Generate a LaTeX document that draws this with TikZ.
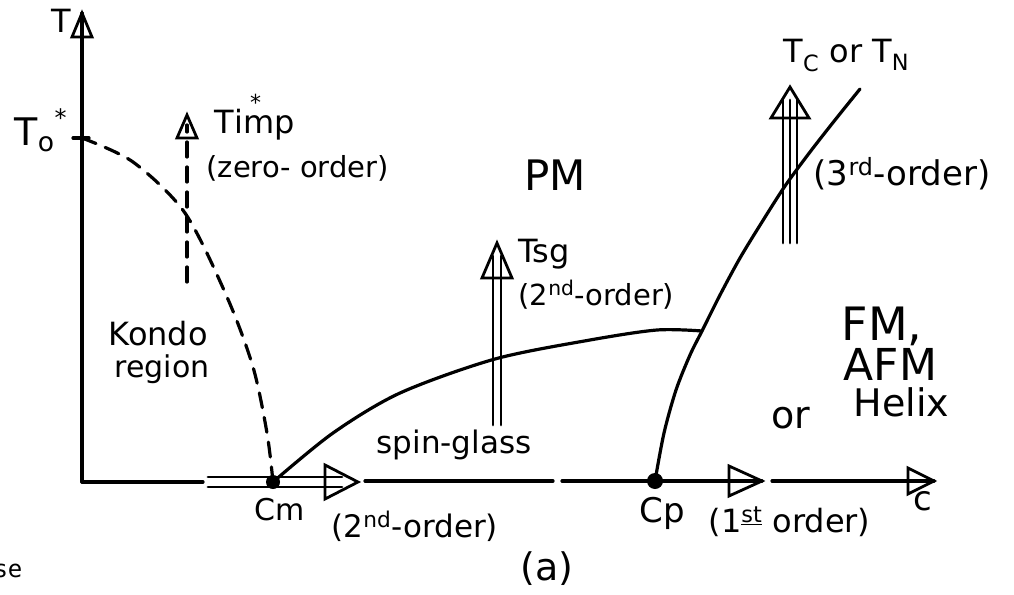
\documentclass[tikz,border=0pt]{standalone}
\usepackage{fontspec}
\setmainfont{DejaVu Sans}
\setmonofont{DejaVu Sans Mono}
\usetikzlibrary{calc}
\newcommand{\fsz}[1]{\fontsize{#1}{#1}\selectfont}

\begin{document}
\begin{tikzpicture}[x=1pt,y=-1pt,line width=3.2pt,line cap=round,line join=round,
  lbl/.style={anchor=base west,inner sep=0pt},
  kondo/.style={dash pattern=on 15pt off 10pt},
  rail/.style={line width=2.7pt},
  head/.style={line width=2.8pt,line join=miter}]
  \useasboundingbox (0,0) rectangle (1014,594);
  % key points
  \coordinate (O) at (82,482);
  \coordinate (ttip) at (82,13);
  \coordinate (t0) at (82,138);
  \coordinate (cm) at (273,482);
  \coordinate (cmtip) at (358,482);
  \coordinate (cp) at (655,481);
  \coordinate (cptip) at (762,481);
  \coordinate (ctip) at (934,481);
  \coordinate (imptip) at (187,115);
  \coordinate (sgtip) at (497,243);
  \coordinate (tctip) at (790,87);
  \coordinate (sgend) at (702,331);
  % T axis
  \draw (O) -- (ttip);
  \draw[head] (ttip) -- ++(-10,24) -- ++(20,0) -- cycle;
  \draw ($(t0)+(-9,0)$) -- ($(t0)+(7,0)$);
  % c axis, with the arrows along it
  \draw (O) -- (203,482);
  \draw[rail] (208,477) -- ($(cmtip)+(-16,-5)$);
  \draw[rail] (208,487) -- ($(cmtip)+(-16,5)$);
  \draw[head] (cmtip) -- ++(-33,-17) -- ++(0,34) -- cycle;
  \draw (365,481) -- (553,481);
  \draw (562,481) -- (cptip);
  \draw[head] (cptip) -- ++(-33,-15) -- ++(0,30) -- cycle;
  \draw (772,481) -- (ctip);
  \draw[head] (ctip) -- ++(-26,-13) -- ++(0,26) -- cycle;
  \fill (cm) circle (7);
  \fill (cp) circle (8);
  % phase lines
  \draw[kondo] plot[smooth] coordinates {(t0) (133,162) (185,213) (227,297) (253,367) (267,433) (cm)};
  \draw plot[smooth] coordinates {(cm) (333,433) (400,393) (495,359) (590,340) (657,330) (sgend)};
  \draw plot[smooth] coordinates {(cp) (664,433) (676,390) (690,355) (sgend) (720,295)
    (740,258) (762,222) (785,186) (810,152) (835,120) (860,89)};
  % zero order
  \draw[kondo] (187,282) -- ($(imptip)+(0,10)$);
  \draw[head] (imptip) -- ++(-10,23) -- ++(20,0) -- cycle;
  % second order
  \draw[rail] (493,425) -- (493,256);
  \draw[rail] (501,425) -- (501,256);
  \draw[head] (sgtip) -- ++(-15,35) -- ++(30,0) -- cycle;
  % third order
  \foreach \dx in {-7,0,7}
    \draw[rail] ($(tctip)+(\dx,156)$) -- ($(tctip)+(\dx,13)$);
  \draw[head] (tctip) -- ++(-19,31) -- ++(38,0) -- cycle;
  % labels
  \node[lbl,font=\fsz{32}] (tlab) at (50,33) {T};
  \node[lbl,font=\fsz{38}] (t0lab) at (13,145) {T\textsubscript{o}\raisebox{0.5em}{\fsz{24}*}};
  \node[lbl,font=\fsz{32}] (implab) at (213,133) {T\rlap{\kern0.5em\raisebox{0.7em}{\fsz{22}*}}imp};
  \node[lbl,font=\fsz{29}] (zerolab) at (205,177) {(zero- order)};
  \node[lbl,font=\fsz{42}] (pm) at (523,190) {PM};
  \node[lbl,font=\fsz{32}] (tclab) at (782,63) {T\textsubscript{C} or T\textsubscript{N}};
  \node[lbl,font=\fsz{34}] (thirdlab) at (812,185) {(3\textsuperscript{rd}-order)};
  \node[lbl,font=\fsz{32}] (sglab) at (517,262) {Tsg};
  \node[lbl,font=\fsz{29}] (secondlab) at (517,305) {(2\textsuperscript{nd}-order)};
  \node[lbl,font=\fsz{32}] (kondo) at (107,345) {Kondo};
  \node[lbl,font=\fsz{30}] (region) at (113,377) {region};
  \node[lbl,font=\fsz{31}] (spinglass) at (375,453) {spin-glass};
  \node[lbl,font=\fsz{46}] (fm) at (840,340) {FM,};
  \node[lbl,font=\fsz{44}] (afm) at (842,380) {AFM};
  \node[lbl,font=\fsz{38}] (helix) at (852,416) {Helix};
  \node[lbl,font=\fsz{38}] (or) at (770,428) {or};
  \node[lbl,font=\fsz{30}] (cmlab) at (253,520) {Cm};
  \node[lbl,font=\fsz{31}] (cmorder) at (330,537) {(2\textsuperscript{nd}-order)};
  \node[lbl,font=\fsz{34}] (cplab) at (638,522) {Cp};
  \node[lbl,font=\fsz{32}] (cporder) at (707,532) {(1\textsuperscript{\underline{st}} order)};
  \node[lbl,font=\fsz{34}] (clab) at (912,510) {c};
  \node[lbl,font=\fsz{38}] (alab) at (519,580) {(a)};
  \node[anchor=base east,inner sep=0pt,font=\ttfamily\fsz{24}] (se) at (24,577) {se};
\end{tikzpicture}
\end{document}
